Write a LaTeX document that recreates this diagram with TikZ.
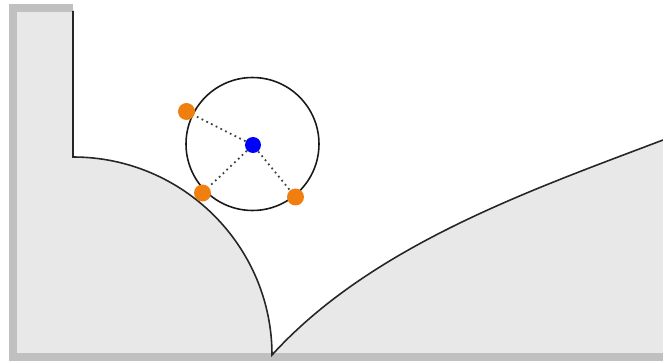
\documentclass[tikz,border=0pt]{standalone}
\usepackage{tikz}
\definecolor{fillgray}{HTML}{E8E8E8}
\definecolor{framegray}{HTML}{C0C0C0}
\definecolor{dotorange}{HTML}{F07F10}
\definecolor{dotblue}{HTML}{0000FF}
\tikzset{
  boundary/.style={draw=black!85, line width=0.9pt},
  frame/.style={draw=framegray, line width=4pt},
  odot/.style={circle, fill=dotorange, inner sep=0pt, minimum size=0.34cm},
  bdot/.style={circle, fill=dotblue, inner sep=0pt, minimum size=0.32cm},
  radius line/.style={draw=black!75, dotted, line width=1pt},
  ring/.style={circle, draw=black!90, line width=0.9pt, inner sep=0pt, minimum size=2.66cm},
}
\begin{document}
\begin{tikzpicture}[x=0.02cm,y=-0.02cm]
\useasboundingbox (0,0) rectangle (663,361);
% filled region
\fill[fillgray] (73,8) -- (73,157) .. controls (182.9,157) and (272,246.1) .. (272,356)
  .. controls (372,245) and (533,189.4) .. (663,140) -- (663,357) -- (13,357) -- (13,8) -- cycle;
% frame
\draw[frame] (73,8) -- (13,8) -- (13,357) -- (663,357);
% boundary
\draw[boundary] (73,11) -- (73,157) .. controls (182.9,157) and (272,246.1) .. (272,355)
  .. controls (372,245) and (533,189.4) .. (663,140);
% circle
\node (ring) [ring] at (252.5,144) {};
\node (c) [bdot] at (253,145) {};
\node (o1) [odot] at (186.5,111.5) {};
\node (o2) [odot] at (202.5,193) {};
\node (o3) [odot] at (295.5,197) {};
\draw[radius line] (c) -- (o1);
\draw[radius line] (c) -- (o2);
\draw[radius line] (c) -- (o3);
\end{tikzpicture}
\end{document}
